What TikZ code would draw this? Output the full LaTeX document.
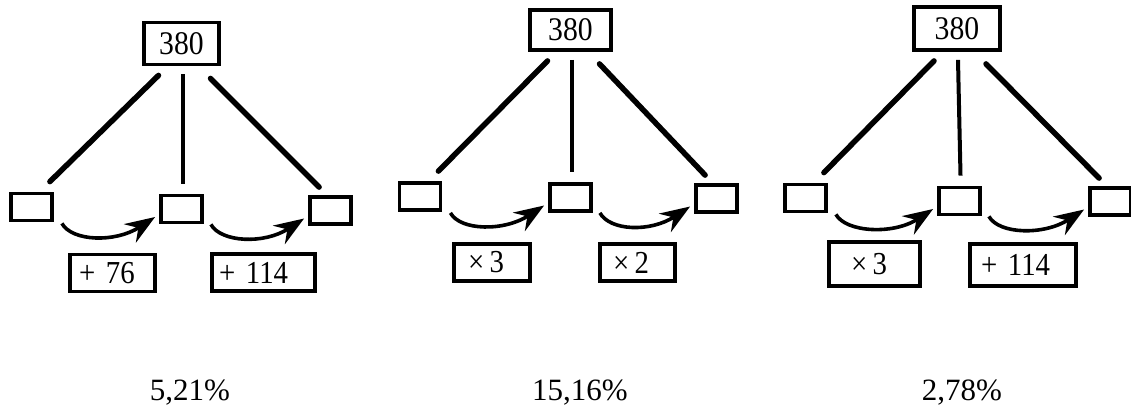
\documentclass[tikz,border=0pt]{standalone}
\usepackage{fontspec}
\setmainfont{Liberation Serif}
\newfontfamily\boxfont[FakeStretch=0.9]{Liberation Serif}
\usetikzlibrary{arrows.meta}
\tikzset{
  topbox/.style={draw, line width=3.8pt, inner sep=0pt, font=\boxfont\fontsize{33}{33}\selectfont},
  cellbox/.style={draw, line width=3.8pt, inner sep=0pt, minimum width=41pt, minimum height=27pt},
  opbox/.style={draw, line width=3.6pt, inner ysep=0pt, minimum height=37pt, align=left, font=\boxfont\fontsize{32}{32}\selectfont},
  stem/.style={line width=5.5pt, line cap=round},
  vstem/.style={line width=4pt},
  hop/.style={line width=3.6pt, -{Stealth[length=30pt,width=22pt,inset=10pt]}},
  pct/.style={anchor=base, inner sep=0pt, font=\fontsize{31}{31}\selectfont}
}
\begin{document}
\begin{tikzpicture}[x=1pt,y=-1pt]
\useasboundingbox (0,0) rectangle (1131,405);
% diagram 1
\node[topbox, minimum width=75pt, minimum height=42pt] (t1) at (181.5,43.5) {380};
\node[cellbox] (l1) at (31.5,207) {};
\node[cellbox] (m1) at (181.5,209) {};
\node[cellbox] (r1) at (330.5,210.5) {};
\node[opbox, inner xsep=9pt, text width=67pt] (p1) at (112.5,273) {+ 76};
\node[opbox, inner xsep=7pt, text width=89pt] (q1) at (263.5,272.5) {+ 114};
% diagram 2
\node[topbox, minimum width=81pt, minimum height=40pt] (t2) at (570.5,30) {380};
\node[cellbox] (l2) at (420,196.5) {};
\node[cellbox] (m2) at (570.5,197.5) {};
\node[cellbox] (r2) at (716.5,198.5) {};
\node[opbox, inner xsep=14pt, text width=48pt] (p2) at (492,262.5) {×\,3};
\node[opbox, inner xsep=13pt, text width=49pt] (q2) at (637.5,262.5) {×\,2};
% diagram 3
\node[topbox, minimum width=86pt, minimum height=43pt] (t3) at (957,28.5) {380};
\node[cellbox] (l3) at (805.5,198) {};
\node[cellbox] (m3) at (959.5,201) {};
\node[cellbox] (r3) at (1110.5,201.5) {};
\node[opbox, inner xsep=22pt, text width=47pt, minimum height=44pt] (p3) at (874.5,264) {×\,3};
\node[opbox, inner xsep=11pt, text width=84pt, minimum height=42pt] (q3) at (1023,265) {+ 114};
% percentages
\node[pct] (s1) at (190,400) {5,21\%};
\node[pct] (s2) at (580,400) {15,16\%};
\node[pct] (s3) at (962,400) {2,78\%};
% connectors
\foreach \d in {1,2,3}{
  \draw[stem] ([xshift=-23pt,yshift=-9pt]t\d.south) -- ([xshift=-4pt,yshift=10pt]l\d.north east);
  \draw[vstem] ([xshift=1pt,yshift=-8pt]t\d.south) -- ([xshift=1pt,yshift=10pt]m\d.north);
  \draw[stem] ([xshift=29pt,yshift=-12pt]t\d.south) -- ([xshift=11pt,yshift=8pt]r\d.north west);
  \draw[hop] ([xshift=8pt,yshift=-1pt]l\d.south east) .. controls +(10,18) and +(-40,26) .. ([xshift=-4pt,yshift=-8pt]m\d.west);
  \draw[hop] ([xshift=7pt,yshift=0pt]m\d.south east) .. controls +(10,18) and +(-40,26) .. ([xshift=-4pt,yshift=-8pt]r\d.west);
}
\end{tikzpicture}
\end{document}
